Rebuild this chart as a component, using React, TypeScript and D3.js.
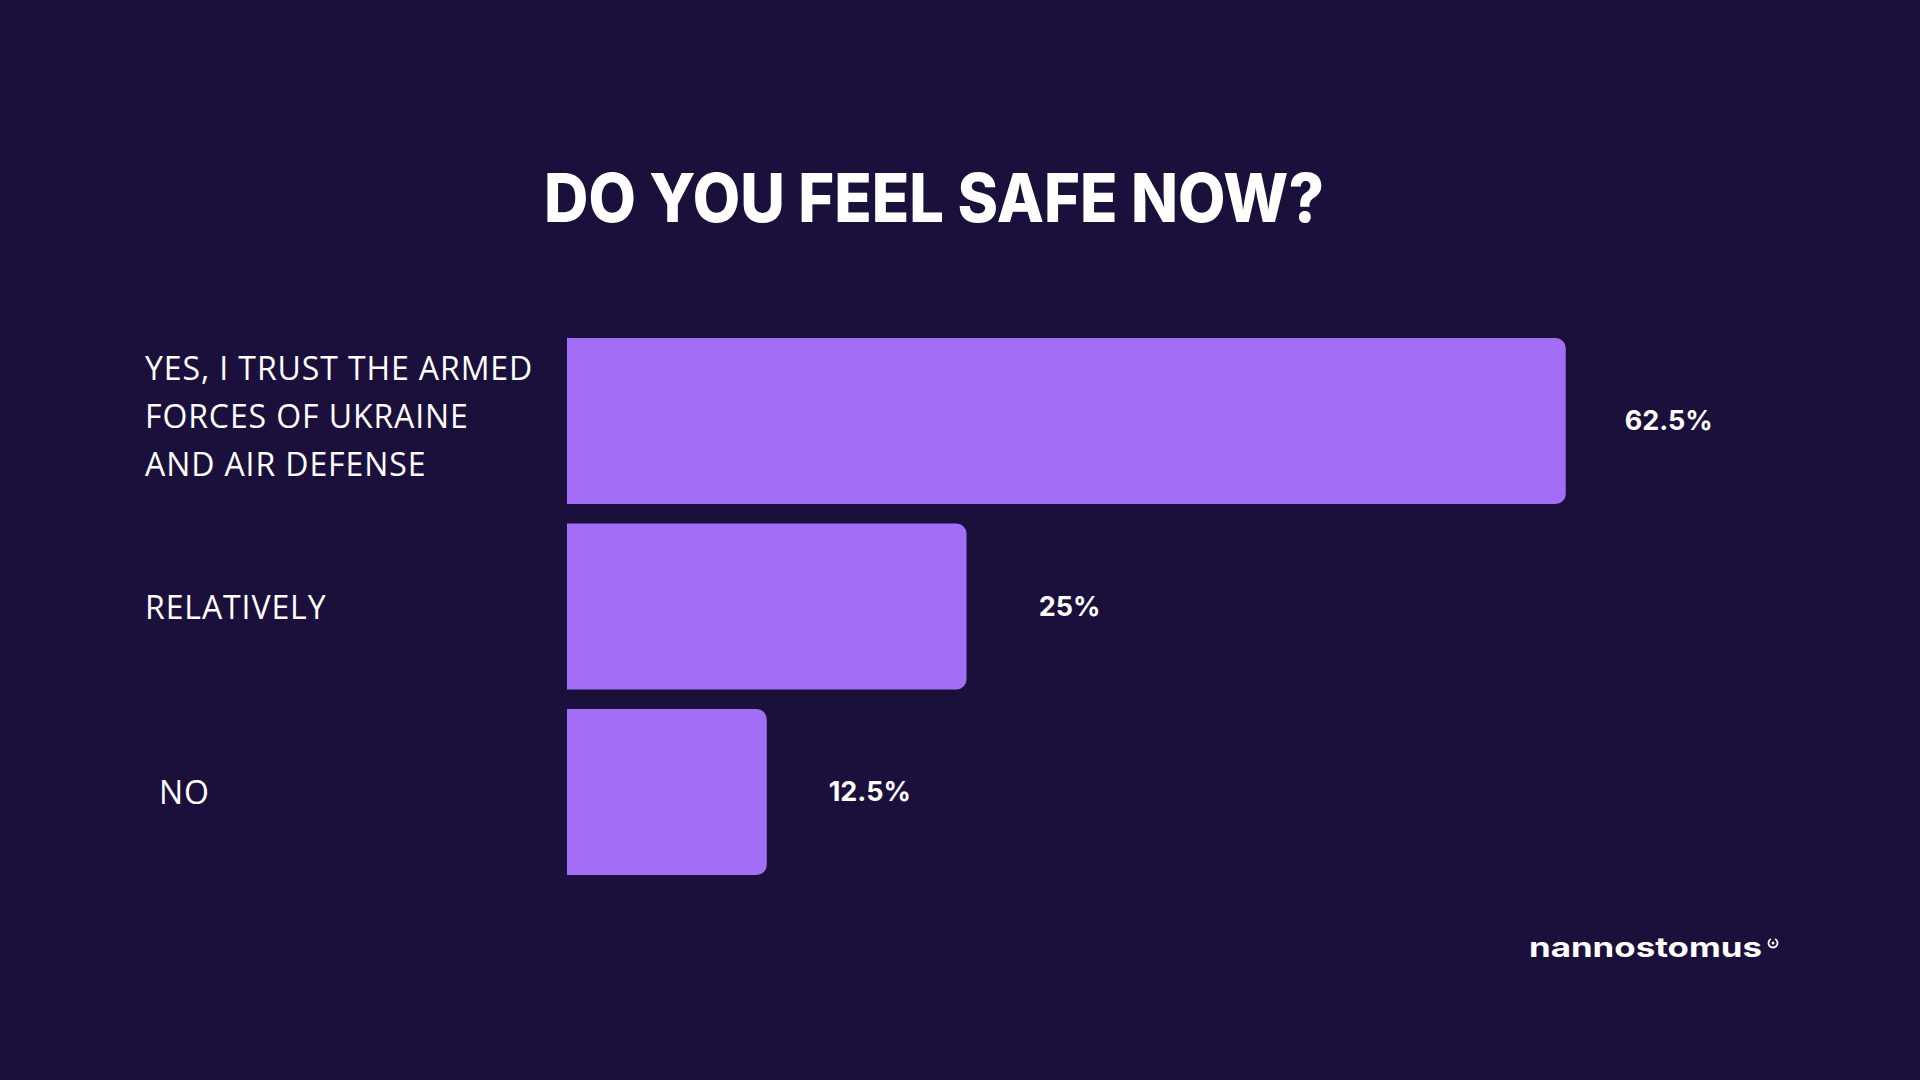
import React, { useEffect } from "react";
import * as d3 from "d3";

const categories = ["YES", "RELATIVELY", "NO"];
const labelLines = [
  ["YES, I TRUST THE ARMED", "FORCES OF UKRAINE", "AND AIR DEFENSE"],
  ["RELATIVELY"],
  ["NO"],
];
const values = [62.5, 25, 12.5];
const valueLabels = ["62.5%", "25%", "12.5%"];

const W = 1920;
const H = 1080;
const BG = "#1b103b";
const BAR = "#a16ef5";

// rounded on the right side only
const barPath = (x0: number, x1: number, y0: number, y1: number, r: number) =>
  `M${x0},${y0}H${x1 - r}A${r},${r} 0 0 1 ${x1},${y0 + r}V${y1 - r}A${r},${r} 0 0 1 ${x1 - r},${y1}H${x0}Z`;

const App = () => {
  useEffect(() => {
    document.body.style.margin = "0";
    document.body.style.background = BG;
  }, []);

  const x = d3.scaleLinear().domain([0, 100]).range([567, 567 + 1598]);
  const y = d3
    .scaleBand<string>()
    .domain(categories)
    .range([338, 875])
    .paddingInner(0.105)
    .paddingOuter(0);

  const lineH = 48;

  return (
    <svg width={W} height={H} style={{ display: "block" }}>
      <rect width={W} height={H} fill={BG} />

      <text
        x={934}
        y={222}
        textAnchor="middle"
        fill="#ffffff"
        fontFamily="Inter, 'Noto Sans', sans-serif"
        fontWeight={800}
        fontSize={67}
        textLength={780}
        lengthAdjust="spacingAndGlyphs"
      >
        DO YOU FEEL SAFE NOW?
      </text>

      {categories.map((c, i) => {
        const y0 = y(c)!;
        const y1 = y0 + y.bandwidth();
        const cy = (y0 + y1) / 2;
        const lines = labelLines[i];
        const firstBase = cy - ((lines.length - 1) * lineH) / 2 + 12 - (lines.length > 1 ? 5 : 0);
        const lx = c === "NO" ? 159 : 145;
        return (
          <g key={c}>
            <path d={barPath(x(0), x(values[i]), y0, y1, 10)} fill={BAR} />
            <text
              fill="#ffffff"
              fontFamily="'Open Sans', sans-serif"
              fontSize={32}
              letterSpacing={0.9}
            >
              {lines.map((l, j) => (
                <tspan key={j} x={lx} y={firstBase + j * lineH}>
                  {l}
                </tspan>
              ))}
            </text>
            <text
              x={x(values[i]) + 103}
              y={cy + 9}
              textAnchor="middle"
              fill="#ffffff"
              fontFamily="Inter, sans-serif"
              fontWeight={700}
              fontSize={27}
            >
              {valueLabels[i]}
            </text>
          </g>
        );
      })}

      <g>
        <text
          x={1529}
          y={957}
          fill="#ffffff"
          fontFamily="Inter, sans-serif"
          fontWeight={700}
          fontSize={27}
          textLength={233}
          lengthAdjust="spacingAndGlyphs"
        >
          nannostomus
        </text>
        <path
          d={d3.arc()({
            innerRadius: 3.6,
            outerRadius: 5.4,
            startAngle: Math.PI * 0.15,
            endAngle: Math.PI * 1.85,
          })!}
          transform="translate(1773,943)"
          fill="#ffffff"
        />
        <circle cx={1773} cy={943} r={1.5} fill="#ffffff" />
      </g>
    </svg>
  );
};

export default App;
